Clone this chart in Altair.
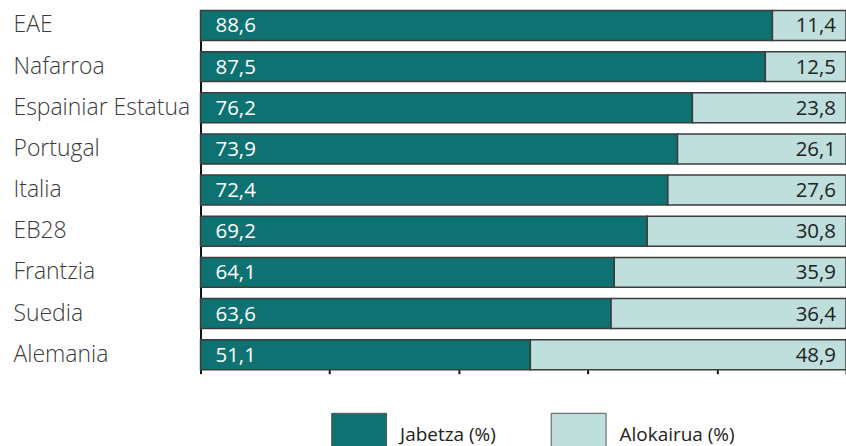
import altair as alt
import pandas as pd

countries = ["EAE", "Nafarroa", "Espainiar Estatua", "Portugal", "Italia",
             "EB28", "Frantzia", "Suedia", "Alemania"]
own = [88.6, 87.5, 76.2, 73.9, 72.4, 69.2, 64.1, 63.6, 51.1]
rent = [11.4, 12.5, 23.8, 26.1, 27.6, 30.8, 35.9, 36.4, 48.9]
series = ["Jabetza (%)", "Alokairua (%)"]
colors = ["#0f7272", "#bedfdc"]

rows = []
for c, o, r in zip(countries, own, rent):
    rows.append({"country": c, "series": series[0], "start": 0, "end": o,
                 "value": o, "label": f"{o:.1f}".replace(".", ","), "pos": 0})
    rows.append({"country": c, "series": series[1], "start": o, "end": o + r,
                 "value": r, "label": f"{r:.1f}".replace(".", ","), "pos": o + r})
df = pd.DataFrame(rows)

FONT = "Open Sans"

y_enc = alt.Y(
    "country:N", sort=countries,
    scale=alt.Scale(paddingInner=0.273, paddingOuter=0),
    axis=alt.Axis(title=None, labelAlign="left", labelPadding=188, ticks=False,
                  domain=True, domainColor="#111", domainWidth=2,
                  labelFontSize=23, labelFont=FONT, labelFontWeight=300,
                  labelColor="#3a3a3a", labelLimit=200),
)

base = alt.Chart(df)

bars = base.mark_bar(stroke="#3c3c3c", strokeWidth=1.5, opacity=1).encode(
    y=y_enc,
    x=alt.X("start:Q", scale=alt.Scale(domain=[0, 100], nice=False),
            axis=alt.Axis(title=None, labels=False, domain=False,
                          values=[0, 20, 40, 60, 80, 100], tickSize=4,
                          tickWidth=2, tickColor="#111", grid=False)),
    x2="end:Q",
    color=alt.Color(
        "series:N", scale=alt.Scale(domain=series, range=colors),
        legend=alt.Legend(title=None, orient="none", legendX=131, legendY=403,
                          direction="horizontal", symbolType="square",
                          symbolSize=3025, symbolStrokeColor="#555",
                          symbolStrokeWidth=1, symbolOpacity=1,
                          labelFontSize=19, labelFont=FONT, labelColor="#222",
                          labelBaseline="alphabetic",
                          labelOffset=13, columnPadding=52, padding=0),
    ),
)

own_text = base.transform_filter(alt.datum.series == series[0]).mark_text(
    align="left", dx=15, dy=1, fontSize=20.5, font=FONT, color="white"
).encode(y=alt.Y("country:N", sort=countries), x="pos:Q", text="label:N")

rent_text = base.transform_filter(alt.datum.series == series[1]).mark_text(
    align="right", dx=-10, dy=1, fontSize=20.5, font=FONT, color="#222"
).encode(y=alt.Y("country:N", sort=countries), x="pos:Q", text="label:N")

chart = alt.layer(bars, own_text, rent_text).properties(
    width=647, height=360,
    autosize=alt.AutoSizeParams(type="none"),
    padding={"left": 201, "top": 10, "right": 0, "bottom": 76},
    background="white",
).configure_view(stroke=None)

chart.save("out.html", embed_options={"renderer": "svg", "actions": False})
